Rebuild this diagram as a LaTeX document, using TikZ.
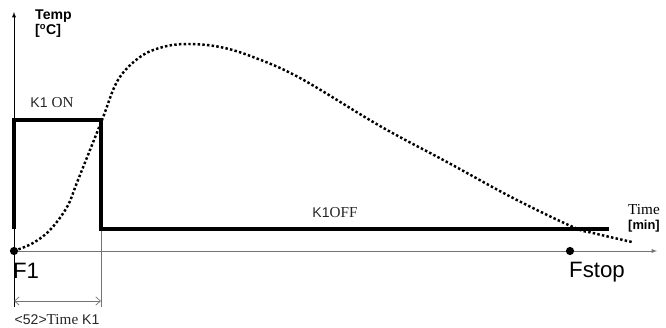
\documentclass[tikz,border=0pt]{standalone}
\usepackage{fontspec}
\setmainfont{Liberation Sans}
\newfontfamily\serifpart[Scale=1.08]{Liberation Serif}
\usetikzlibrary{arrows,arrows.meta,positioning}

\begin{document}
\begin{tikzpicture}[
    axis/.style={line width=0.6pt, -latex},
    guide/.style={line width=0.6pt, black!55},
    pulse/.style={line width=3.2pt},
    tempcurve/.style={line width=2.1pt, dash pattern=on 2.1pt off 1.9pt},
    dot/.style={circle, fill=black, inner sep=0pt, minimum size=7pt},
    lbl/.style={inner sep=0pt, font=\fontsize{12}{13}\selectfont, text=black!85},
    big/.style={inner sep=0pt, font=\fontsize{19}{20}\selectfont}
]
    \useasboundingbox (-0.42,-2.28) rectangle (19.56,7.53);

    \coordinate (F1) at (0,0);
    \coordinate (Fstop) at (16.68,0);
    \coordinate (top) at (0,7.17);
    \coordinate (bot) at (0,-1.68);
    \coordinate (xend) at (19.29,0);
    \coordinate (onA) at (0,0.66);
    \coordinate (onB) at (0,3.93);
    \coordinate (offA) at (2.61,3.93);
    \coordinate (offB) at (2.61,0.66);
    \coordinate (offC) at (17.85,0.66);
    \coordinate (kbot) at (2.61,-1.68);
    \coordinate (dimA) at (0,-1.5);
    \coordinate (dimB) at (2.61,-1.5);

    % axes
    \draw[axis, black!55] (F1) -- (xend);
    \draw[axis] (bot) -- (top);
    \draw[guide] (offB) -- (kbot);
    \draw[guide, {Straight Barb[length=4pt,width=7pt]}-{Straight Barb[length=4pt,width=7pt]}] (dimA) -- (dimB);

    % K1 signal
    \draw[pulse] (onA) -- (onB) -- (offA) -- (offB) -- (offC);

    % temperature
    \draw[tempcurve] plot[smooth, tension=0.6] coordinates {
        (0,0) (0.57,0.24) (1.08,0.63) (1.59,1.32) (1.92,2.13) (2.64,3.93)
        (3.12,5.13) (3.78,5.82) (4.47,6.12) (5.22,6.21) (6.18,6.12)
        (7.17,5.82) (8.58,5.19) (10.98,3.75) (12.99,2.67) (14.97,1.59)
        (16.77,0.72) (17.37,0.54) (18.54,0.27)};

    \node[dot] (f1dot) at (F1) {};
    \node[dot] (fstopdot) at (Fstop) {};

    % labels
    \node[lbl, font=\fontsize{12}{13}\selectfont\bfseries, text=black, align=left, anchor=north west] (temp) at (0.63,7.25) {Temp\\{}[\textsuperscript{o}C]};
    \node[lbl] (k1on) at (1.14,4.44) {K1 {\serifpart ON}};
    \node[lbl] (k1off) at (9.63,1.14) {K1{\serifpart OFF}};
    \node[lbl, align=left, anchor=west, text=black] (time) at (18.42,0.97)
        {{\fontsize{12}{11}\selectfont\serifpart Time}\\{\fontsize{11}{11}\selectfont\bfseries [min]}};
    \node[big] (f1) at (0.36,-0.6) {F1};
    \node[big] (fstop) at (17.49,-0.63) {Fstop};
    \node[lbl] (tk1) at (1.29,-2.07) {<52>{\serifpart Time} K1};
\end{tikzpicture}
\end{document}
